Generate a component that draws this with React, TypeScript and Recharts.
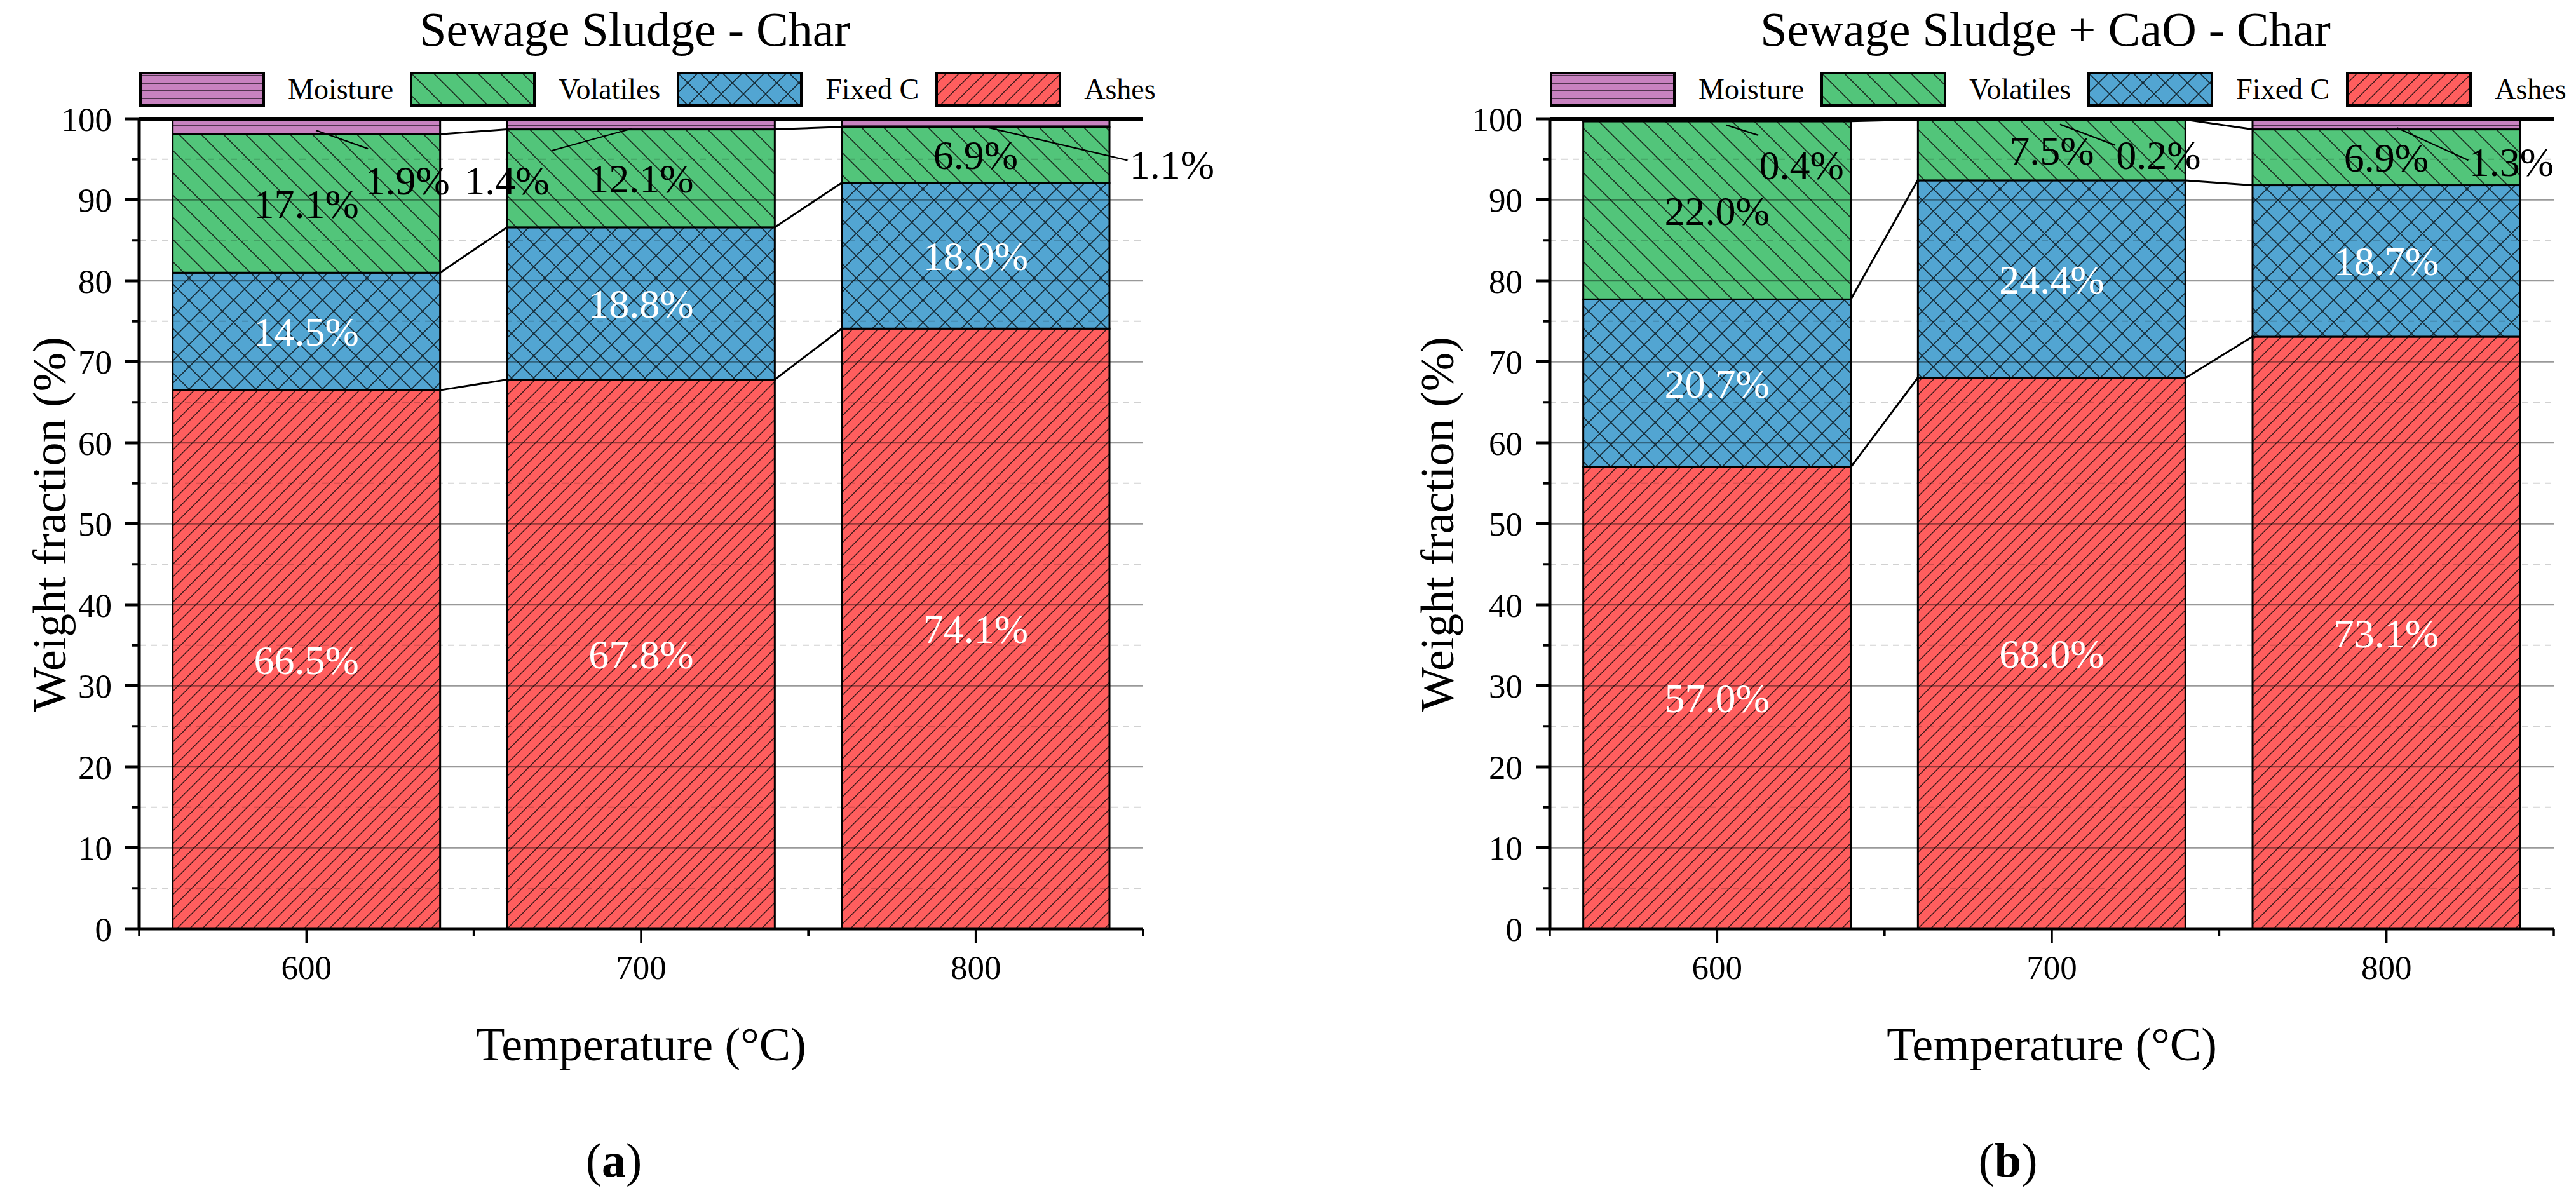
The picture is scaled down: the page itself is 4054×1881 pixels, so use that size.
import React from 'react'
import { BarChart, Bar, XAxis, YAxis, ReferenceLine, LabelList } from 'recharts'

const categories = ['600', '700', '800']

// (a) Sewage Sludge - Char
const ashesA = [66.5, 67.8, 74.1]
const fixedCA = [14.5, 18.8, 18.0]
const volatilesA = [17.1, 12.1, 6.9]
const moistureA = [1.9, 1.4, 1.1]

// (b) Sewage Sludge + CaO - Char
const ashesB = [57.0, 68.0, 73.1]
const fixedCB = [20.7, 24.4, 18.7]
const volatilesB = [22.0, 7.5, 6.9]
const moistureB = [0.4, 0.2, 1.3]

const yTicks = [0, 5, 10, 15, 20, 25, 30, 35, 40, 45, 50, 55, 60, 65, 70, 75, 80, 85, 90, 95, 100]
const majorGrid = [10, 20, 30, 40, 50, 60, 70, 80, 90]
const minorGrid = [5, 15, 25, 35, 45, 55, 65, 75, 85, 95]

const stackKeys = ['ashes', 'fixedC', 'volatiles', 'moisture']
const legendItems = [
  { name: 'Moisture', pat: 'patMoist' },
  { name: 'Volatiles', pat: 'patVol' },
  { name: 'Fixed C', pat: 'patFix' },
  { name: 'Ashes', pat: 'patAsh' },
]

// leader-line offsets for the small moisture labels (start, end, label centre)
const notesA = [
  { sx: 15, sy: 6, ex: 97, ey: 35, lx: 159, ly: 84 },
  { sx: -14, sy: 7, ex: -141, ey: 42, lx: -211, ly: 88 },
  { sx: 18, sy: 7, ex: 239, ey: 59, lx: 309, ly: 65 },
]
const notesB = [
  { sx: 15, sy: 8, ex: 65, ey: 24, lx: 133, ly: 71 },
  { sx: 13, sy: 8, ex: 100, ey: 41, lx: 168, ly: 56 },
  { sx: 17, sy: 6, ex: 129, ey: 57, lx: 197, ly: 59 },
]

const FONT = '"Liberation Serif", "Times New Roman", serif'
const H = 1881
const TOP = 187
const AXIS_LEFT = 219
const PLOT_W = 1580
const PLOT_BOTTOM = 1462
const X_AXIS_H = 150
const GAP = 0.1 // per side of each category band
const HALF_BAND = PLOT_W / categories.length / 2

const fmt = (v: number) => `${v.toFixed(1)}%`

function buildRows(a: number[], f: number[], v: number[], m: number[]) {
  return categories.map((t, i) => ({ temp: t, ashes: a[i], fixedC: f[i], volatiles: v[i], moisture: m[i] }))
}

function Patterns() {
  return (
    <svg width={0} height={0} style={{ position: 'absolute' }}>
      <defs>
        <pattern id="patAsh" patternUnits="userSpaceOnUse" width={20} height={20}>
          <rect width={20} height={20} fill="#FF5E5E" />
          <path d="M-5,5 L5,-5 M0,20 L20,0 M15,25 L25,15" stroke="#3a1818" strokeWidth={1.5} />
        </pattern>
        <pattern id="patVol" patternUnits="userSpaceOnUse" width={35} height={35}>
          <rect width={35} height={35} fill="#52C57A" />
          <path d="M-8.75,26.25 L8.75,43.75 M0,0 L35,35 M26.25,-8.75 L43.75,8.75" stroke="#1a3020" strokeWidth={1.6} />
        </pattern>
        <pattern id="patFix" patternUnits="userSpaceOnUse" width={35} height={35}>
          <rect width={35} height={35} fill="#52A5D2" />
          <path
            d="M-8.75,26.25 L8.75,43.75 M0,0 L35,35 M26.25,-8.75 L43.75,8.75 M-8.75,8.75 L8.75,-8.75 M0,35 L35,0 M26.25,43.75 L43.75,26.25"
            stroke="#142a36"
            strokeWidth={1.6}
          />
        </pattern>
        <pattern id="patMoist" patternUnits="userSpaceOnUse" width={20} height={12}>
          <rect width={20} height={12} fill="#C882C0" />
          <path d="M0,6 L20,6" stroke="#2a1a2a" strokeWidth={1.5} />
        </pattern>
      </defs>
    </svg>
  )
}

function makeShape(rows: any[], k: number) {
  return (props: any) => {
    const { x, y, width, height, index, fill } = props
    const row = rows[index]
    const next = rows[index + 1]
    let link = null
    if (next && k < 3 && height > 0) {
      const cum = (r: any) => stackKeys.slice(0, k + 1).reduce((s, key) => s + r[key], 0)
      const ppu = height / row[stackKeys[k]]
      const yNext = y - (cum(next) - cum(row)) * ppu
      const xNext = x + width / (1 - 2 * GAP)
      link = <line x1={x + width} y1={y} x2={xNext} y2={yNext} stroke="#000" strokeWidth={3} />
    }
    return (
      <g>
        <rect x={x} y={y} width={width} height={height} fill={fill} stroke="#000" strokeWidth={3} />
        {link}
      </g>
    )
  }
}

function YTick(props: any) {
  const { x, y, payload } = props
  const v = payload.value
  const major = v % 10 === 0
  return (
    <g>
      <line x1={x - (major ? 22 : 11)} y1={y} x2={x} y2={y} stroke="#000" strokeWidth={major ? 5 : 4} />
      {major && (
        <text x={x - 43} y={y} dy="0.35em" textAnchor="end" fontSize={53} fill="#000">
          {v}
        </text>
      )}
    </g>
  )
}

function XTick(props: any) {
  const { x, y, payload } = props
  return (
    <g>
      <line x1={x} y1={y} x2={x} y2={y + 23} stroke="#000" strokeWidth={3.5} />
      <line x1={x - HALF_BAND} y1={y} x2={x - HALF_BAND} y2={y + 11} stroke="#000" strokeWidth={3.5} />
      <line x1={x + HALF_BAND} y1={y} x2={x + HALF_BAND} y2={y + 11} stroke="#000" strokeWidth={3.5} />
      <text x={x} y={y + 60} dy="0.35em" textAnchor="middle" fontSize={53} fill="#000">
        {payload.value}
      </text>
    </g>
  )
}

function makeNote(notes: any[]) {
  return (props: any) => {
    const vb = props.viewBox ?? props
    const { x, y, width, height } = vb
    const n = notes[props.index]
    if (!n) return null
    const cx = x + width / 2
    const cy = y + height / 2
    return (
      <g>
        <line x1={cx + n.sx} y1={cy + n.sy} x2={cx + n.ex} y2={cy + n.ey} stroke="#000" strokeWidth={2.2} />
        <text x={cx + n.lx} y={cy + n.ly} dy="0.35em" textAnchor="middle" fontSize={64} fill="#000">
          {fmt(props.value)}
        </text>
      </g>
    )
  }
}

function Legend() {
  return (
    <div style={{ position: 'absolute', left: AXIS_LEFT, top: 113, height: 55, display: 'flex', alignItems: 'center' }}>
      {legendItems.map((it, i) => (
        <div key={it.name} style={{ display: 'flex', alignItems: 'center', marginLeft: i === 0 ? 0 : 26 }}>
          <svg width={198} height={55} style={{ display: 'block' }}>
            <rect x={2} y={2} width={194} height={51} fill={`url(#${it.pat})`} stroke="#000" strokeWidth={4} />
          </svg>
          <span style={{ marginLeft: 36, fontSize: 46, lineHeight: '55px' }}>{it.name}</span>
        </div>
      ))}
    </div>
  )
}

function Panel(props: {
  left: number
  width: number
  title: string
  letter: string
  captionX: number
  yLabelX: number
  rows: any[]
  notes: any[]
}) {
  const { left, width, title, letter, captionX, yLabelX, rows, notes } = props
  const plotCenter = AXIS_LEFT + PLOT_W / 2
  return (
    <div style={{ position: 'absolute', left, top: 0, width, height: H }}>
      <div
        style={{
          position: 'absolute',
          left: AXIS_LEFT - 10,
          width: PLOT_W,
          top: 6,
          textAlign: 'center',
          fontSize: 76,
          lineHeight: '80px',
          whiteSpace: 'nowrap',
        }}
      >
        {title}
      </div>
      <Legend />
      <BarChart
        width={width}
        height={H}
        data={rows}
        barCategoryGap={`${GAP * 100}%`}
        margin={{ top: TOP, right: width - AXIS_LEFT - PLOT_W, left: AXIS_LEFT - 100, bottom: H - PLOT_BOTTOM - X_AXIS_H }}
        style={{ position: 'absolute', left: 0, top: 0 }}
      >
        <XAxis
          dataKey="temp"
          height={X_AXIS_H}
          axisLine={{ stroke: '#000', strokeWidth: 5 }}
          tickLine={false}
          tickSize={0}
          tickMargin={0}
          tick={<XTick />}
          interval={0}
        />
        <YAxis
          width={100}
          type="number"
          domain={[0, 100]}
          allowDataOverflow
          ticks={yTicks}
          interval={0}
          axisLine={{ stroke: '#000', strokeWidth: 5 }}
          tickLine={false}
          tickSize={0}
          tickMargin={0}
          tick={<YTick />}
        />
        {stackKeys.map((key, k) => (
          <Bar
            key={key}
            dataKey={key}
            stackId="s"
            fill={`url(#${legendItems[3 - k].pat})`}
            shape={makeShape(rows, k)}
            isAnimationActive={false}
          >
            {key === 'moisture' ? (
              <LabelList dataKey={key} content={makeNote(notes)} />
            ) : (
              <LabelList
                dataKey={key}
                position="center"
                formatter={fmt}
                fontSize={64}
                fill={key === 'volatiles' ? '#000' : '#fff'}
              />
            )}
          </Bar>
        ))}
        {minorGrid.map((v) => (
          <ReferenceLine key={`m${v}`} y={v} stroke="#000" strokeOpacity={0.18} strokeWidth={2} strokeDasharray="10 8" />
        ))}
        {majorGrid.map((v) => (
          <ReferenceLine key={`M${v}`} y={v} stroke="#000" strokeOpacity={0.4} strokeWidth={2.5} />
        ))}
        <ReferenceLine y={100} stroke="#000" strokeWidth={6} />
      </BarChart>
      <div
        style={{
          position: 'absolute',
          left: yLabelX - 400,
          width: 800,
          top: (TOP + PLOT_BOTTOM) / 2 - 45,
          height: 90,
          lineHeight: '90px',
          textAlign: 'center',
          fontSize: 74,
          transform: 'rotate(-90deg)',
          whiteSpace: 'nowrap',
        }}
      >
        Weight fraction (%)
      </div>
      <div
        style={{
          position: 'absolute',
          left: plotCenter - 400,
          width: 800,
          top: 1644 - 45,
          height: 90,
          lineHeight: '90px',
          textAlign: 'center',
          fontSize: 74,
          whiteSpace: 'nowrap',
        }}
      >
        Temperature (°C)
      </div>
      <div
        style={{
          position: 'absolute',
          left: captionX - 200,
          width: 400,
          top: 1826 - 45,
          height: 90,
          lineHeight: '90px',
          textAlign: 'center',
          fontSize: 76,
        }}
      >
        (<b>{letter}</b>)
      </div>
    </div>
  )
}

export default function App() {
  const rowsA = buildRows(ashesA, fixedCA, volatilesA, moistureA)
  const rowsB = buildRows(ashesB, fixedCB, volatilesB, moistureB)
  return (
    <div
      style={{
        position: 'absolute',
        left: 0,
        top: 0,
        width: 4054,
        height: H,
        background: '#fff',
        fontFamily: FONT,
        color: '#000',
        overflow: 'hidden',
      }}
    >
      <Patterns />
      <Panel
        left={0}
        width={1960}
        title="Sewage Sludge - Char"
        letter="a"
        captionX={966}
        yLabelX={78}
        rows={rowsA}
        notes={notesA}
      />
      <Panel
        left={2220}
        width={1834}
        title="Sewage Sludge + CaO - Char"
        letter="b"
        captionX={940}
        yLabelX={42}
        rows={rowsB}
        notes={notesB}
      />
    </div>
  )
}
